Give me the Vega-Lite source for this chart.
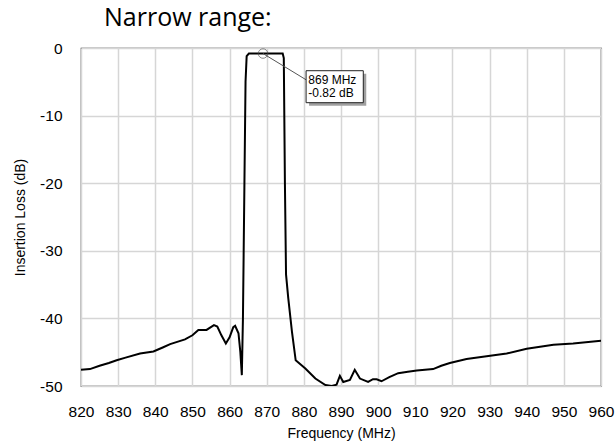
{
  "$schema": "https://vega.github.io/schema/vega-lite/v6.json",
  "width": 520,
  "height": 338,
  "autosize": "none",
  "padding": {"left": 81, "top": 48, "right": 15, "bottom": 57},
  "background": "white",
  "title": {"text": "Narrow range:", "anchor": "start", "frame": "group", "dx": 23, "offset": 10, "font": "Open Sans", "fontSize": 25, "fontWeight": "normal", "color": "#000"},
  "config": {
    "view": {"stroke": "#222", "strokeWidth": 1.2},
    "axis": {"grid": true, "gridColor": "#d6d6d6", "gridWidth": 1.5, "ticks": false, "domain": false, "labelOverlap": false, "labelFlush": false, "labelFont": "Liberation Sans", "labelFontSize": 15.5, "labelColor": "#000", "titleFont": "Liberation Sans", "titleFontSize": 14, "titleFontWeight": "normal", "titleColor": "#000", "labelExpr": "'' + datum.value"}
  },
  "datasets": {
    "curve": [
      {"f": 820, "db": -47.6}, {"f": 822.4, "db": -47.5}, {"f": 825, "db": -47.0}, {"f": 827.5, "db": -46.6},
      {"f": 829.6, "db": -46.2}, {"f": 832, "db": -45.8}, {"f": 835.9, "db": -45.2}, {"f": 839.5, "db": -44.9},
      {"f": 842, "db": -44.3}, {"f": 844, "db": -43.8}, {"f": 848, "db": -43.1}, {"f": 850, "db": -42.5},
      {"f": 851.6, "db": -41.7}, {"f": 853.8, "db": -41.7}, {"f": 855.8, "db": -41.0}, {"f": 856.7, "db": -41.2},
      {"f": 857.8, "db": -42.5}, {"f": 859, "db": -43.7}, {"f": 860, "db": -42.8}, {"f": 861, "db": -41.3},
      {"f": 861.5, "db": -41.1}, {"f": 862.4, "db": -42.2}, {"f": 862.9, "db": -45}, {"f": 863.3, "db": -48.4},
      {"f": 863.6, "db": -40}, {"f": 864.0, "db": -20}, {"f": 864.3, "db": -5}, {"f": 864.6, "db": -1.2},
      {"f": 865.2, "db": -0.82}, {"f": 869, "db": -0.82}, {"f": 874.3, "db": -0.8}, {"f": 874.6, "db": -1.5},
      {"f": 874.9, "db": -20}, {"f": 875.2, "db": -33.5}, {"f": 875.8, "db": -37}, {"f": 876.8, "db": -42},
      {"f": 877.8, "db": -46.2}, {"f": 880.4, "db": -47.4}, {"f": 883.1, "db": -48.9}, {"f": 885.8, "db": -49.85},
      {"f": 887.5, "db": -50}, {"f": 888.8, "db": -49.8}, {"f": 889.7, "db": -48.5}, {"f": 890.6, "db": -49.4},
      {"f": 892.4, "db": -49.1}, {"f": 893.7, "db": -47.6}, {"f": 895.1, "db": -48.9}, {"f": 897.3, "db": -49.4},
      {"f": 898.6, "db": -49.0}, {"f": 899.6, "db": -49.0}, {"f": 900.9, "db": -49.3}, {"f": 903, "db": -48.7},
      {"f": 905.4, "db": -48.1}, {"f": 908, "db": -47.9}, {"f": 910.4, "db": -47.7}, {"f": 914.8, "db": -47.5},
      {"f": 917, "db": -47.0}, {"f": 919.3, "db": -46.6}, {"f": 923.8, "db": -46.0}, {"f": 929.2, "db": -45.6},
      {"f": 934.6, "db": -45.2}, {"f": 940, "db": -44.5}, {"f": 947.2, "db": -43.9}, {"f": 952.5, "db": -43.7},
      {"f": 960, "db": -43.3}
    ],
    "marker": [{"f": 869, "db": -0.82}],
    "leader": [{"f": 869, "db": -0.82, "f2": 880.6, "db2": -4.7}],
    "shadow": [{"f": 881.4, "f2": 896.8, "db": -3.8, "db2": -8.55}],
    "box": [{"f": 880.6, "f2": 896.0, "db": -3.36, "db2": -8.09}],
    "labels": [{"f": 881.2, "db": -4.73, "t": "869 MHz"}, {"f": 881.2, "db": -6.7, "t": "-0.82 dB"}]
  },
  "encoding": {
    "x": {"field": "f", "type": "quantitative", "scale": {"domain": [820, 960], "nice": false, "zero": false},
          "axis": {"values": [820, 830, 840, 850, 860, 870, 880, 890, 900, 910, 920, 930, 940, 950, 960], "title": "Frequency (MHz)", "labelPadding": 18, "titlePadding": 7}},
    "y": {"field": "db", "type": "quantitative", "scale": {"domain": [-50, 0], "nice": false, "zero": false},
          "axis": {"values": [-50, -40, -30, -20, -10, 0], "title": "Insertion Loss (dB)", "labelPadding": 19, "titlePadding": 12}}
  },
  "layer": [
    {
      "data": {"name": "curve"},
      "mark": {"type": "line", "color": "#000", "strokeWidth": 2, "clip": true}
    },
    {
      "data": {"name": "leader"},
      "mark": {"type": "rule", "color": "#555", "strokeWidth": 1},
      "encoding": {"x2": {"field": "f2"}, "y2": {"field": "db2"}}
    },
    {
      "data": {"name": "marker"},
      "mark": {"type": "point", "filled": false, "color": "#555", "size": 90, "strokeWidth": 1}
    },
    {
      "data": {"name": "shadow"},
      "mark": {"type": "rect", "fill": "#a0a0a0"},
      "encoding": {"x2": {"field": "f2"}, "y2": {"field": "db2"}}
    },
    {
      "data": {"name": "box"},
      "mark": {"type": "rect", "fill": "#fff", "stroke": "#222", "strokeWidth": 1},
      "encoding": {"x2": {"field": "f2"}, "y2": {"field": "db2"}}
    },
    {
      "data": {"name": "labels"},
      "mark": {"type": "text", "align": "left", "baseline": "middle", "font": "Liberation Sans", "fontSize": 12, "color": "#000"},
      "encoding": {"text": {"field": "t"}}
    }
  ]
}
